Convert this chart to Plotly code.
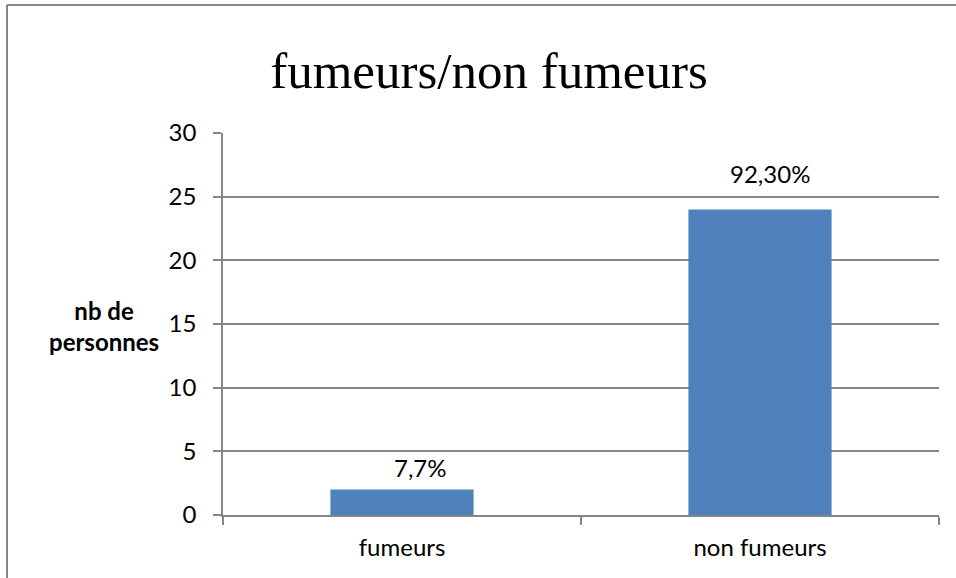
import plotly.graph_objects as go

# Survey: smokers vs non-smokers
categories = ["fumeurs", "non fumeurs"]
counts = [2, 24]
pct_labels = ["7,7%", "92,30%"]
y_ticks = [0, 5, 10, 15, 20, 25, 30]

W, H = 956, 578
L, R, T, B = 223, 17, 133, 63
plot_w = W - L - R
plot_h = H - T - B

axis_grey = "#868686"
sans = "Lato, 'Open Sans', sans-serif"
label_font = dict(family=sans, size=24, color="#000000")

# pixel nudges (dx, dy) for the value labels above each bar
label_nudges = [(18, 22), (10, 36)]

fig = go.Figure()
fig.add_trace(go.Bar(
    x=categories,
    y=counts,
    marker=dict(color="#4F81BD", line=dict(width=0)),
    width=0.4,
    hoverinfo="skip",
))

for cat, val, lab, (dx, dy) in zip(categories, counts, pct_labels, label_nudges):
    fig.add_annotation(
        x=cat, y=val, text=lab, showarrow=False,
        xanchor="center", yanchor="middle",
        xshift=dx, yshift=dy, font=label_font,
    )

fig.update_layout(
    width=W, height=H,
    margin=dict(l=L, r=R, t=T, b=B, pad=0),
    paper_bgcolor="white",
    plot_bgcolor="white",
    showlegend=False,
    title=dict(
        text="fumeurs/non fumeurs",
        font=dict(family="'Liberation Serif', 'DejaVu Serif', serif", size=51, color="#000000"),
        x=489 / W, xanchor="center",
        y=1 - 70 / H, yanchor="middle",
    ),
    xaxis=dict(
        showgrid=False,
        showline=True, linecolor=axis_grey, linewidth=1.5,
        ticks="outside", ticklen=8, tickcolor=axis_grey, tickwidth=1.5,
        tickson="boundaries",
        tickfont=label_font,
        ticklabelstandoff=10,
        fixedrange=True,
    ),
    yaxis=dict(
        range=[0, 30],
        tickvals=y_ticks,
        showgrid=True, gridcolor=axis_grey, gridwidth=1.5,
        showline=True, linecolor=axis_grey, linewidth=1.5,
        ticks="outside", ticklen=8, tickcolor=axis_grey, tickwidth=1.5,
        tickfont=label_font,
        ticklabelstandoff=12,
        zeroline=False,
        fixedrange=True,
    ),
)

# Y axis title, horizontal, two lines
fig.add_annotation(
    xref="paper", yref="paper",
    x=(104 - L) / plot_w, y=(H - B - 326) / plot_h,
    text="<b>nb de<br>personnes</b>", showarrow=False,
    xanchor="center", yanchor="middle", align="center",
    font=dict(family=sans, size=24, color="#000000"),
)

# Chart frame (left and top edges visible)
fig.add_shape(
    type="line", xref="paper", yref="paper",
    x0=(7 - L) / plot_w, x1=(7 - L) / plot_w,
    y0=(H - B - H - 5) / plot_h, y1=(H - B - 5) / plot_h,
    line=dict(color=axis_grey, width=2),
)
fig.add_shape(
    type="line", xref="paper", yref="paper",
    x0=(7 - L) / plot_w, x1=(W + 5 - L) / plot_w,
    y0=(H - B - 5) / plot_h, y1=(H - B - 5) / plot_h,
    line=dict(color=axis_grey, width=2),
)

fig.write_html("out.html")
